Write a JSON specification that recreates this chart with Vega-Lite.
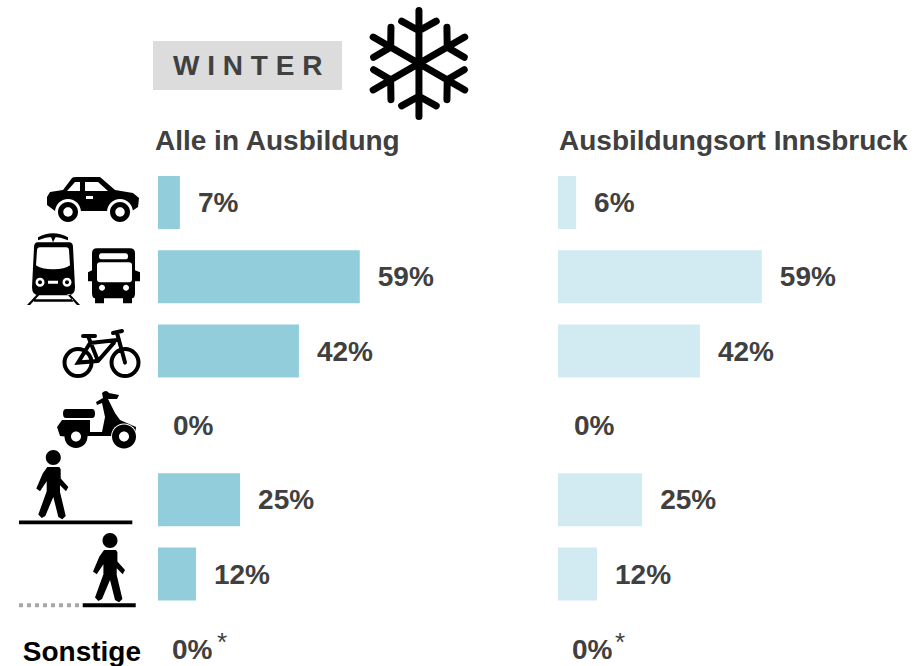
{
"$schema":"https://vega.github.io/schema/vega-lite/v6.json",
"background":"white",
"padding":0,
"spacing":0,
"bounds":"flush",
"config":{"view":{"stroke":null},"text":{"font":"Liberation Sans"}},
"datasets":{
"werte":[
{"gruppe":"Alle in Ausbildung","kategorie":"Auto","anteil":6.4,"label":"7%"},
{"gruppe":"Alle in Ausbildung","kategorie":"Öffis","anteil":59,"label":"59%"},
{"gruppe":"Alle in Ausbildung","kategorie":"Rad","anteil":41.2,"label":"42%"},
{"gruppe":"Alle in Ausbildung","kategorie":"Moped","anteil":0,"label":"0%"},
{"gruppe":"Alle in Ausbildung","kategorie":"Zu Fuß","anteil":24,"label":"25%"},
{"gruppe":"Alle in Ausbildung","kategorie":"Teilweise zu Fuß","anteil":11.1,"label":"12%"},
{"gruppe":"Ausbildungsort Innsbruck","kategorie":"Auto","anteil":5.3,"label":"6%"},
{"gruppe":"Ausbildungsort Innsbruck","kategorie":"Öffis","anteil":59.6,"label":"59%"},
{"gruppe":"Ausbildungsort Innsbruck","kategorie":"Rad","anteil":41.5,"label":"42%"},
{"gruppe":"Ausbildungsort Innsbruck","kategorie":"Moped","anteil":0,"label":"0%"},
{"gruppe":"Ausbildungsort Innsbruck","kategorie":"Zu Fuß","anteil":24.6,"label":"25%"},
{"gruppe":"Ausbildungsort Innsbruck","kategorie":"Teilweise zu Fuß","anteil":11.4,"label":"12%"}
],
"icons":[
{"kategorie":"Auto","icon":"auto_body","teil":"voll"},
{"kategorie":"Auto","icon":"auto_fenster","teil":"frei"},
{"kategorie":"Auto","icon":"auto_ring","teil":"frei"},
{"kategorie":"Auto","icon":"auto_rad","teil":"voll"},
{"kategorie":"Auto","icon":"auto_nabe","teil":"frei"},
{"kategorie":"Öffis","icon":"tram_voll","teil":"voll"},
{"kategorie":"Öffis","icon":"tram_frei","teil":"frei"},
{"kategorie":"Öffis","icon":"tram_licht","teil":"voll"},
{"kategorie":"Öffis","icon":"bus_voll","teil":"voll"},
{"kategorie":"Öffis","icon":"bus_frei","teil":"frei"},
{"kategorie":"Moped","icon":"moped_voll","teil":"voll"},
{"kategorie":"Moped","icon":"moped_ring","teil":"frei"},
{"kategorie":"Moped","icon":"moped_rad","teil":"voll"},
{"kategorie":"Moped","icon":"moped_nabe","teil":"frei"},
{"kategorie":"Zu Fuß","icon":"gehen1","teil":"voll"},
{"kategorie":"Teilweise zu Fuß","icon":"gehen2","teil":"voll"},
{"kategorie":"Teilweise zu Fuß","icon":"punkte","teil":"grau"}
]
},
"hconcat":[
{
"width":558,"height":666,
"layer":[
{"data":{"values":[{"kategorie":"Kopf"}]},
 "mark":{"type":"bar","color":"#dcdcdc","size":49,"yOffset":11.5},
 "encoding":{"y":{"field":"kategorie","type":"nominal","axis":null,"scale":{"type":"point","padding":0,"domain":["Kopf","Titel","Auto","Öffis","Rad","Moped","Zu Fuß","Teilweise zu Fuß","Sonstige"],"range":[53.9,648.3]}},
  "x":{"datum":-1.46,"type":"quantitative","axis":null,"scale":{"domain":[-46.2,116.96],"nice":false,"zero":false}},"x2":{"datum":53.8}}},
{"data":{"values":[{"kategorie":"Kopf","text":"W I N T E R"}]},
 "mark":{"type":"text","fontSize":28,"fontWeight":"bold","color":"#404040","align":"left","baseline":"middle","dy":13},
 "encoding":{"y":{"field":"kategorie","type":"nominal"},"x":{"datum":4.4,"type":"quantitative"},"text":{"field":"text"}}},
{"data":{"values":[{"kategorie":"Kopf"}]},
 "mark":{"type":"point","filled":false,"size":3.7,"stroke":"#000000","strokeWidth":7,"strokeCap":"round","strokeJoin":"round","yOffset":9.6,"opacity":1,
 "shape":"M0 -55L0 55M47.6 -27.5L-47.6 27.5M47.6 27.5L-47.6 -27.5M-18 -44L0 -34L18 -44M29.1 -37.6L29.4 -17L47.1 -6.4M47.1 6.4L29.4 17L29.1 37.6M18 44L0 34L-18 44M-29.1 37.6L-29.4 17L-47.1 6.4M-47.1 -6.4L-29.4 -17L-29.1 -37.6"},
 "encoding":{"y":{"field":"kategorie","type":"nominal"},"x":{"datum":76.3,"type":"quantitative"}}},
{"data":{"values":[{"kategorie":"Titel","gruppe":"Alle in Ausbildung"}]},
 "mark":{"type":"text","fontSize":28,"fontWeight":"bold","color":"#404040","align":"left","baseline":"middle","dy":14},
 "encoding":{"y":{"field":"kategorie","type":"nominal"},"x":{"datum":-0.88,"type":"quantitative"},"text":{"field":"gruppe"}}},
{"data":{"name":"werte"},"transform":[{"filter":"datum.gruppe==='Alle in Ausbildung' && datum.anteil>0"}],
 "mark":{"type":"bar","color":"#92cddc","size":53},
 "encoding":{"y":{"field":"kategorie","type":"nominal"},"x":{"field":"anteil","type":"quantitative"}}},
{"data":{"name":"werte"},"transform":[{"filter":"datum.gruppe==='Alle in Ausbildung' && datum.anteil>0"}],
 "mark":{"type":"text","fontSize":28,"fontWeight":"bold","color":"#404040","align":"left","baseline":"middle","dx":18,"dy":1.5},
 "encoding":{"y":{"field":"kategorie","type":"nominal"},"x":{"field":"anteil","type":"quantitative"},"text":{"field":"label"}}},
{"data":{"name":"werte"},"transform":[{"filter":"datum.gruppe==='Alle in Ausbildung' && datum.anteil==0"}],
 "mark":{"type":"text","fontSize":28,"fontWeight":"bold","color":"#404040","align":"left","baseline":"middle","dx":15,"dy":1.5},
 "encoding":{"y":{"field":"kategorie","type":"nominal"},"x":{"field":"anteil","type":"quantitative"},"text":{"field":"label"}}},
{"data":{"values":[{"kategorie":"Sonstige","anteil":0,"label":"0%"}]},
 "mark":{"type":"text","fontSize":28,"fontWeight":"bold","color":"#404040","align":"left","baseline":"middle","dx":14,"dy":2.5},
 "encoding":{"y":{"field":"kategorie","type":"nominal"},"x":{"field":"anteil","type":"quantitative"},"text":{"field":"label"}}},
{"data":{"values":[{"kategorie":"Sonstige","anteil":0,"label":"*"}]},
 "mark":{"type":"text","fontSize":26,"color":"#404040","align":"left","baseline":"middle","dx":59,"dy":-5},
 "encoding":{"y":{"field":"kategorie","type":"nominal"},"x":{"field":"anteil","type":"quantitative"},"text":{"field":"label"}}},
{"data":{"values":[{"kategorie":"Sonstige","text":"Sonstige"}]},
 "mark":{"type":"text","fontSize":28,"fontWeight":"bold","color":"#000000","align":"right","baseline":"middle","dy":4.5},
 "encoding":{"y":{"field":"kategorie","type":"nominal"},"x":{"datum":-4.97,"type":"quantitative"},"text":{"field":"text"}}},
{"data":{"name":"icons"},
 "mark":{"type":"point","filled":true,"size":4,"opacity":1,"strokeWidth":0,"yOffset":0.5},
 "encoding":{"y":{"field":"kategorie","type":"nominal"},"x":{"datum":-19.88,"type":"quantitative"},
  "fill":{"field":"teil","type":"nominal","legend":null,"scale":{"domain":["voll","frei","grau"],"range":["#000000","#ffffff","#a6a6a6"]}},
  "shape":{"field":"icon","type":"nominal","legend":null,"scale":{
   "domain":["auto_body","auto_fenster","auto_ring","auto_rad","auto_nabe","tram_voll","tram_frei","tram_licht","bus_voll","bus_frei","moped_voll","moped_ring","moped_rad","moped_nabe","gehen1","gehen2","punkte"],
   "range":[
   "M-43 -6L-40 -11L-27 -13L-18 -25Q-17 -26 -14 -26L10 -26L25 -13L43 -10L49 -5L48 4L42 8L-35 8L-43 2Z",
   "M-23 -12L-15 -21L-10 -21L-10 -12ZM-5 -21L8 -21L18 -12L-5 -12ZM-4 -7L3 -7L3 -4L-4 -4Z",
   "M-35 9a13 13 0 1 0 26 0a13 13 0 1 0 -26 0zM17 9a13 13 0 1 0 26 0a13 13 0 1 0 -26 0z",
   "M-32 9a10 10 0 1 0 20 0a10 10 0 1 0 -20 0zM20 9a10 10 0 1 0 20 0a10 10 0 1 0 -20 0z",
   "M-26.7 9a4.7 4.7 0 1 0 9.4 0a4.7 4.7 0 1 0 -9.4 0zM25.3 9a4.7 4.7 0 1 0 9.4 0a4.7 4.7 0 1 0 -9.4 0z",
   "M-52 -35L-21 -35Q-17 -35 -17 -30L-15 10Q-15 18 -22 18L-51 18Q-58 18 -58 10L-56 -30Q-56 -35 -52 -35ZM-52 -40Q-37 -48 -22 -40L-22 -37Q-37 -44 -52 -37ZM-40 -43L-33 -43L-37 -35ZM-63 27.7L-53 17L-50 17L-60 27.7ZM-10 27.7L-20 17L-23 17L-13 27.7ZM-56 22L-17 22L-17 24.5L-56 24.5Z",
   "M-50 -30L-24 -30Q-21 -30 -21 -27L-20 -12Q-25 -8 -37 -8Q-49 -8 -54 -12L-53 -27Q-53 -30 -50 -30ZM-54.5 5a4.5 4.5 0 1 0 9 0a4.5 4.5 0 1 0 -9 0zM-27.5 5a4.5 4.5 0 1 0 9 0a4.5 4.5 0 1 0 -9 0zM-42 3.5L-32 3.5L-32 6.5L-42 6.5Z",
   "M-52 5a2 2 0 1 0 4 0a2 2 0 1 0 -4 0zM-25 5a2 2 0 1 0 4 0a2 2 0 1 0 -4 0z",
   "M7 -29L40 -29Q45 -29 45 -24L45 -7L50 -5L50 4L45 4L45 16Q45 21 42 21L42 26L33 26L33 21L14 21L14 26L5 26L5 21Q2 21 2 16L2 4L-2 4L-2 -5L2 -7L2 -24Q2 -29 7 -29Z",
   "M11 -24L36 -24Q38 -24 38 -21Q38 -18 36 -18L11 -18Q9 -18 9 -21Q9 -24 11 -24ZM10 -15L39 -15Q42 -15 42 -12L42 2Q42 5 39 5L10 5Q7 5 7 2L7 -12Q7 -15 10 -15ZM9 10.5a3 3 0 1 0 6 0a3 3 0 1 0 -6 0zM33 10.5a3 3 0 1 0 6 0a3 3 0 1 0 -6 0z",
   "M-24 -17L2 -17Q5 -17 5 -12.5Q5 -8 2 -8L-24 -8Q-27 -8 -27 -12.5Q-27 -17 -24 -17ZM-33 1L-28 -6L0 -6L0 6L12 6L15 -9L12 -23L7 -21L6 -24L13 -28L12 -33Q16 -37 19 -33L29 -31L27 -27L18 -27L25 -13L30 -6L46 1L45 10L21 10L12 10L0 10L-20 11L-30 10Z",
   "M21 10.7a13 13 0 1 0 26 0a13 13 0 1 0 -26 0z",
   "M-25.5 10.7a11.5 11.5 0 1 0 23 0a11.5 11.5 0 1 0 -23 0zM22 10.7a12 12 0 1 0 24 0a12 12 0 1 0 -24 0z",
   "M-19 10.7a5 5 0 1 0 10 0a5 5 0 1 0 -10 0zM29 10.7a5 5 0 1 0 10 0a5 5 0 1 0 -10 0z",
   "M-44.2 -42.7a7.5 7.5 0 1 0 15 0a7.5 7.5 0 1 0 -15 0zM-42.7 -33.3L-30.7 -33.3L-29.3 -31L-29.3 -21.7L-21.7 -13.3L-24 -9L-30 -15L-30 -8.3L-24.3 15.7L-27.7 19L-31.7 16.7L-36.7 -3.3L-44.7 15.7L-48.3 17.7L-51.7 14.3L-43.3 -9L-43.3 -19L-50 -9L-53.7 -11.7L-47.3 -26.7ZM-71 20.3L42.3 20.3L42.3 24L-71 24Z",
   "M12.5 -33.9a7.5 7.5 0 1 0 15 0a7.5 7.5 0 1 0 -15 0zM14 -24.5L26 -24.5L27.4 -22.2L27.4 -12.9L35 -4.5L32.7 -0.2L26.7 -6.2L26.7 0.5L32.4 24.5L29 27.8L25 25.5L20 5.5L12 24.5L8.4 26.5L5 23.1L13.4 -0.2L13.4 -10.2L6.7 -0.2L3 -2.9L9.4 -17.9ZM-7.3 28.7L45.7 28.7L45.7 32.7L-7.3 32.7Z",
   "M-71 28.7h4v4h-4zM-63 28.7h4v4h-4zM-55 28.7h4v4h-4zM-47 28.7h4v4h-4zM-39 28.7h4v4h-4zM-31 28.7h4v4h-4zM-23 28.7h4v4h-4zM-15 28.7h4v4h-4z"
   ]}}}},
{"data":{"values":[{"kategorie":"Rad"}]},
 "mark":{"type":"point","filled":false,"size":4,"stroke":"#000000","strokeWidth":4,"strokeCap":"round","opacity":1,"yOffset":0.5,
 "shape":"M-25.5 11a13.5 13.5 0 1 0 27 0a13.5 13.5 0 1 0 -27 0zM21.5 11a13.5 13.5 0 1 0 27 0a13.5 13.5 0 1 0 -27 0zM-7 -15.6L5 -15.6M-2 -15.6L8 9.4M23 -18.6L32 -20.6M27 -18.6L35 11M0 -8.6L27 -11.6M24 -9L8 9.4M0 -8.6L-12 11L8 9.4"},
 "encoding":{"y":{"field":"kategorie","type":"nominal"},"x":{"datum":-19.88,"type":"quantitative"}}}
]
},
{
"width":356,"height":666,
"layer":[
{"data":{"values":[{"kategorie":"Titel","gruppe":"Ausbildungsort Innsbruck"}]},
 "mark":{"type":"text","fontSize":28,"fontWeight":"bold","color":"#404040","align":"left","baseline":"middle","dy":14},
 "encoding":{"y":{"field":"kategorie","type":"nominal","axis":null,"scale":{"type":"point","padding":0,"domain":["Kopf","Titel","Auto","Öffis","Rad","Moped","Zu Fuß","Teilweise zu Fuß","Sonstige"],"range":[53.9,648.3]}},
 "x":{"datum":0.3,"type":"quantitative","axis":null,"scale":{"domain":[0,104.1],"nice":false,"zero":false}},"text":{"field":"gruppe"}}},
{"data":{"name":"werte"},"transform":[{"filter":"datum.gruppe==='Ausbildungsort Innsbruck' && datum.anteil>0"}],
 "mark":{"type":"bar","color":"#d2eaf1","size":53},
 "encoding":{"y":{"field":"kategorie","type":"nominal"},"x":{"field":"anteil","type":"quantitative"}}},
{"data":{"name":"werte"},"transform":[{"filter":"datum.gruppe==='Ausbildungsort Innsbruck' && datum.anteil>0"}],
 "mark":{"type":"text","fontSize":28,"fontWeight":"bold","color":"#404040","align":"left","baseline":"middle","dx":18,"dy":1.5},
 "encoding":{"y":{"field":"kategorie","type":"nominal"},"x":{"field":"anteil","type":"quantitative"},"text":{"field":"label"}}},
{"data":{"name":"werte"},"transform":[{"filter":"datum.gruppe==='Ausbildungsort Innsbruck' && datum.anteil==0"}],
 "mark":{"type":"text","fontSize":28,"fontWeight":"bold","color":"#404040","align":"left","baseline":"middle","dx":16,"dy":1.5},
 "encoding":{"y":{"field":"kategorie","type":"nominal"},"x":{"field":"anteil","type":"quantitative"},"text":{"field":"label"}}},
{"data":{"values":[{"kategorie":"Sonstige","anteil":0,"label":"0%"}]},
 "mark":{"type":"text","fontSize":28,"fontWeight":"bold","color":"#404040","align":"left","baseline":"middle","dx":14,"dy":2.5},
 "encoding":{"y":{"field":"kategorie","type":"nominal"},"x":{"field":"anteil","type":"quantitative"},"text":{"field":"label"}}},
{"data":{"values":[{"kategorie":"Sonstige","anteil":0,"label":"*"}]},
 "mark":{"type":"text","fontSize":26,"color":"#404040","align":"left","baseline":"middle","dx":57,"dy":-5},
 "encoding":{"y":{"field":"kategorie","type":"nominal"},"x":{"field":"anteil","type":"quantitative"},"text":{"field":"label"}}}
]
}
]
}
